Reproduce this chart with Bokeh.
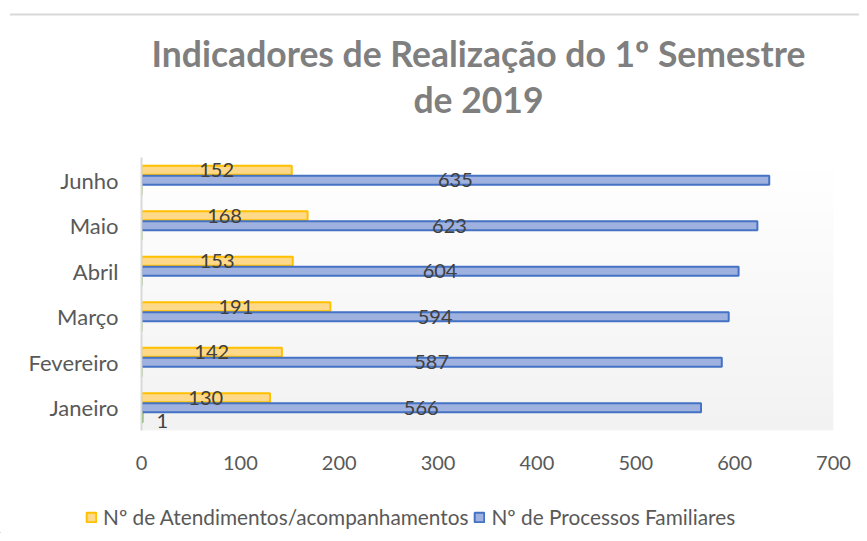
import numpy as np
from bokeh.plotting import figure
from bokeh.layouts import column, row
from bokeh.models import (FactorRange, Range1d, Legend, LegendItem, Label,
                          ColumnDataSource, FixedTicker)
from bokeh.transform import dodge
from bokeh.core.properties import value
from bokeh.embed import file_html
from bokeh.resources import INLINE

# ---- data ----
months = ["Janeiro", "Fevereiro", "Março", "Abril", "Maio", "Junho"]
atendimentos = [130, 142, 191, 153, 168, 152]
processos = [566, 587, 594, 604, 623, 635]
outros = [1, 0, 0, 0, 0, 0]
x_ticks = [0, 100, 200, 300, 400, 500, 600, 700]
title_lines = ["Indicadores de Realização do 1º Semestre", "de 2019"]
legend_labels = ["Nº de Atendimentos/acompanhamentos", "Nº de Processos Familiares"]

FONT = "Lato"
ORANGE_FILL, ORANGE_LINE = "#FFD98A", "#FFC000"
BLUE_FILL, BLUE_LINE = "#9FB1DF", "#4472C4"
GREEN_FILL, GREEN_LINE = "#A9D18E", "#70AD47"
FRAME_GRAY = "#D9D9D9"

W = 859
H_TOP = 157
H_MID = 336
H_LEG = 40
EDGE_X = 9.5


def strip(width, height):
    f = figure(width=width, height=height,
               x_range=Range1d(0, width), y_range=Range1d(0, height),
               x_axis_type=None, y_axis_type=None,
               output_backend="svg", toolbar_location=None,
               min_border_left=0, min_border_right=0,
               min_border_top=0, min_border_bottom=0)
    f.grid.visible = False
    f.outline_line_color = None
    f.border_fill_color = "white"
    f.background_fill_color = "white"
    return f


# ---------- title strip (with chart-area top border) ----------
top = strip(W, H_TOP)
top.segment(x0=[EDGE_X], y0=[H_TOP - 14], x1=[W], y1=[H_TOP - 14],
            line_color=FRAME_GRAY, line_width=2)
for txt, yy in zip(title_lines, [H_TOP - 53, H_TOP - 99]):
    top.add_layout(Label(x=478, y=yy, text=txt, text_align="center",
                         text_baseline="alphabetic", text_font=FONT,
                         text_font_size="35.5px", text_font_style="bold",
                         text_color="#7F7F7F"))

# ---------- main chart ----------
src = ColumnDataSource(dict(
    month=months,
    at=atendimentos, at_mid=[v / 2 for v in atendimentos], at_txt=[str(v) for v in atendimentos],
    pr=processos, pr_mid=[v / 2 for v in processos], pr_txt=[str(v) for v in processos],
))
ot_src = ColumnDataSource(dict(
    month=[m for m, v in zip(months, outros) if v],
    ot=[v for v in outros if v],
    ot_txt=[str(v) for v in outros if v],
))
ot_all = ColumnDataSource(dict(month=months, ot=outros))

p = figure(width=W, height=H_MID,
           y_range=FactorRange(factors=months, range_padding=0),
           x_range=Range1d(0, 700),
           output_backend="svg", toolbar_location=None,
           min_border_left=141, min_border_right=26,
           min_border_top=0, min_border_bottom=63)
p.outline_line_color = None
p.xgrid.visible = False
p.ygrid.visible = False
p.background_fill_color = "white"
p.border_fill_color = "white"

# gradient plot-area background
N = 64
img = np.zeros((N, 1), dtype=np.uint32)
view = img.view(dtype=np.uint8).reshape((N, 1, 4))
for i in range(N):
    t = i / (N - 1)  # 0 bottom -> 1 top
    c = int(round(0xF2 + (0xFF - 0xF2) * t))
    view[i, 0, :] = [c, c, c, 255]
p.image_rgba(image=[img], x=0, y=0, dw=700, dh=len(months))

OFF = 0.22
H = 0.2
p.hbar(y=dodge("month", OFF, range=p.y_range), left=0, right="at", height=H,
       source=src, fill_color=ORANGE_FILL, line_color=ORANGE_LINE, line_width=2)
p.hbar(y=dodge("month", 0, range=p.y_range), left=0, right="pr", height=H,
       source=src, fill_color=BLUE_FILL, line_color=BLUE_LINE, line_width=2)
p.hbar(y=dodge("month", -OFF, range=p.y_range), left=0, right="ot", height=H,
       source=ot_all, fill_color=GREEN_FILL, line_color=GREEN_LINE, line_width=2)

lab_kw = dict(text_font=value(FONT), text_font_size="20px", text_color="#404040",
              text_align="center", text_baseline="middle")
p.text(x="at_mid", y=dodge("month", OFF, range=p.y_range), text="at_txt", source=src, **lab_kw)
p.text(x="pr_mid", y=dodge("month", 0, range=p.y_range), text="pr_txt", source=src, **lab_kw)
p.text(x="ot", y=dodge("month", -OFF, range=p.y_range), text="ot_txt", source=ot_src,
       x_offset=14, y_offset=3, text_font=value(FONT), text_font_size="20px",
       text_color="#404040", text_align="left", text_baseline="middle")

# axes
p.xaxis.ticker = FixedTicker(ticks=x_ticks)
p.xaxis.axis_line_color = None
p.xaxis.major_tick_line_color = None
p.xaxis.minor_tick_line_color = None
p.xaxis.major_label_standoff = 19
p.xaxis.major_label_text_font_size = "20px"
p.yaxis.axis_line_color = FRAME_GRAY
p.yaxis.axis_line_width = 2
p.yaxis.major_tick_line_color = None
p.yaxis.minor_tick_line_color = None
p.yaxis.major_label_standoff = 17
p.yaxis.major_label_text_font_size = "22px"
for ax in (p.xaxis, p.yaxis):
    ax.major_label_text_font = FONT
    ax.major_label_text_color = "#595959"

# ---------- legend strip ----------
lg = strip(W, H_LEG)
k_at = lg.hbar(y=[-50], right=[-50], height=1, fill_color=ORANGE_FILL, line_color=ORANGE_LINE, line_width=2)
k_pr = lg.hbar(y=[-50], right=[-50], height=1, fill_color=BLUE_FILL, line_color=BLUE_LINE, line_width=2)
legend = Legend(items=[LegendItem(label=legend_labels[0], renderers=[k_at]),
                       LegendItem(label=legend_labels[1], renderers=[k_pr])],
                orientation="horizontal", location=(85, 4),
                padding=0, margin=0, spacing=5, label_standoff=6,
                glyph_width=12, glyph_height=12,
                label_text_font=FONT, label_text_font_size="20.8px",
                label_text_color="#595959",
                border_line_color=None, background_fill_alpha=0)
lg.add_layout(legend)

layout = column(row(top), p, row(lg), spacing=0)
open("out.html", "w").write(file_html(layout, INLINE))
